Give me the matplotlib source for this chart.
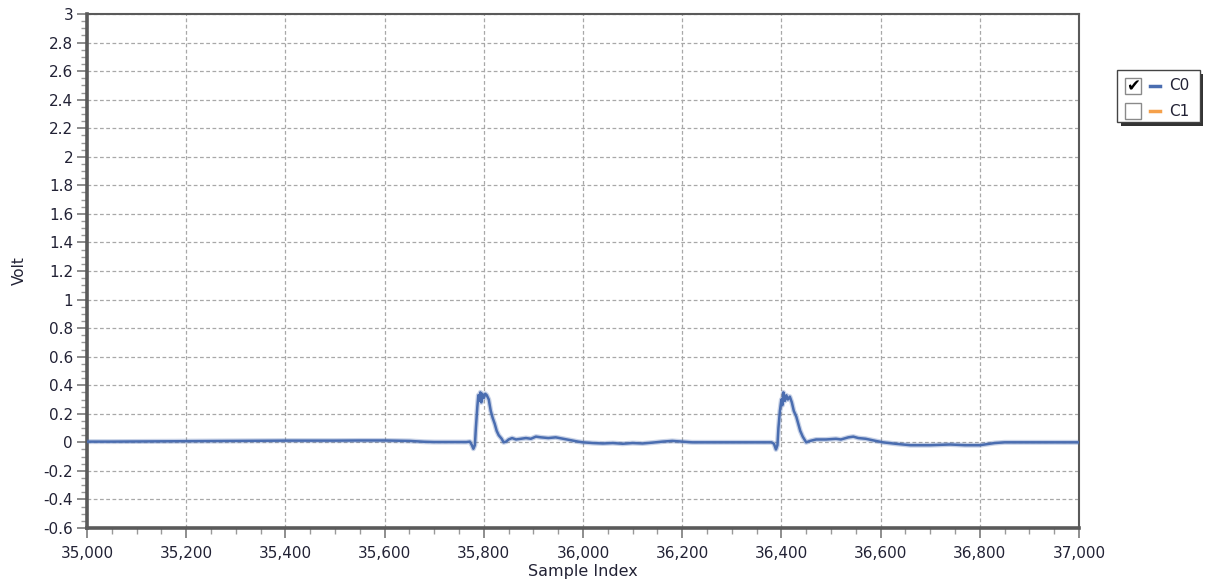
import matplotlib
matplotlib.use("Agg")
import matplotlib.pyplot as plt
from matplotlib.patches import Rectangle
from matplotlib.lines import Line2D
from matplotlib.ticker import MultipleLocator, FuncFormatter

# ---------------- data ----------------
samples = [35000, 35050, 35100, 35150, 35200, 35250, 35300, 35350, 35400, 35450,
           35500, 35550, 35600, 35650, 35680, 35700, 35740, 35765, 35772, 35776,
           35779, 35782, 35784, 35787, 35789, 35791, 35793, 35795, 35797, 35800,
           35803, 35806, 35810, 35814, 35818, 35822, 35826, 35830, 35836, 35840,
           35845, 35850, 35857, 35865, 35875, 35885, 35895, 35905, 35915, 35930,
           35945, 35960, 35975, 35990, 36000, 36020, 36040, 36060, 36080, 36100,
           36120, 36140, 36160, 36180, 36200, 36220, 36250, 36300, 36350, 36380,
           36385, 36389, 36392, 36394, 36397, 36400, 36402, 36404, 36407, 36410,
           36413, 36417, 36421, 36425, 36430, 36434, 36438, 36443, 36450, 36458,
           36470, 36490, 36510, 36520, 36535, 36545, 36555, 36570, 36590, 36605,
           36630, 36660, 36700, 36740, 36770, 36800, 36830, 36850, 36900, 36950,
           37000]
c0_volt = [0.005, 0.005, 0.006, 0.007, 0.008, 0.009, 0.010, 0.011, 0.012, 0.012,
           0.012, 0.013, 0.013, 0.010, 0.004, 0.002, 0.002, 0.002, 0.005, -0.02,
           -0.045, -0.02, 0.10, 0.25, 0.33, 0.29, 0.35, 0.28, 0.34, 0.31,
           0.34, 0.33, 0.30, 0.22, 0.17, 0.13, 0.08, 0.05, 0.025, 0.0,
           0.005, 0.02, 0.03, 0.02, 0.025, 0.03, 0.025, 0.04, 0.035, 0.03,
           0.035, 0.025, 0.015, 0.005, 0.0, -0.005, -0.008, -0.005, -0.01, -0.005,
           -0.008, -0.002, 0.005, 0.01, 0.005, 0.0, 0.0, 0.0, 0.0, 0.0,
           -0.01, -0.05, -0.02, 0.10, 0.22, 0.30, 0.26, 0.35, 0.29, 0.33,
           0.30, 0.32, 0.28, 0.22, 0.18, 0.13, 0.08, 0.04, 0.0, 0.01,
           0.02, 0.02, 0.025, 0.02, 0.035, 0.04, 0.03, 0.025, 0.01, 0.0,
           -0.01, -0.02, -0.02, -0.015, -0.02, -0.02, -0.005, 0.0, 0.0, 0.0,
           0.0]
series_names = ["C0", "C1"]
series_colors = ["#4a6db0", "#f5a04a"]
series_checked = [True, False]

# ---------------- figure ----------------
W, H = 1208, 582
fig = plt.figure(figsize=(W / 100, H / 100), dpi=100)
fig.patch.set_facecolor("white")

L, R, T, B = 87, 1079, 14, 528
ax = fig.add_axes([L / W, 1 - B / H, (R - L) / W, (B - T) / H])

ax.plot(samples, c0_volt, color=series_colors[0], lw=3.6, alpha=0.3,
        solid_joinstyle="round", zorder=3)
ax.plot(samples, c0_volt, color=series_colors[0], lw=1.8,
        solid_joinstyle="round", zorder=4)

ax.set_xlim(35000, 37000)
ax.set_ylim(-0.6, 3.0)
ax.xaxis.set_major_locator(MultipleLocator(200))
ax.xaxis.set_minor_locator(MultipleLocator(50))
ax.yaxis.set_major_locator(MultipleLocator(0.2))
ax.yaxis.set_minor_locator(MultipleLocator(0.05))
ax.xaxis.set_major_formatter(FuncFormatter(lambda v, p: f"{int(round(v)):,}"))
ax.yaxis.set_major_formatter(FuncFormatter(
    lambda v, p: (f"{v:.1f}".rstrip("0").rstrip(".") if abs(v) > 1e-9 else "0")))

txt_color = "#222235"
ax.tick_params(axis="both", which="major", direction="out", length=7, width=1.2,
               color="#7a7a7a", labelsize=11, labelcolor=txt_color)
ax.tick_params(axis="x", which="major", pad=6)
ax.tick_params(axis="y", which="major", pad=3)
ax.tick_params(axis="both", which="minor", direction="out", length=4, width=1.0,
               color="#9a9a9a")

ax.grid(True, which="major", color="#a8a8a8", linestyle=(0, (3, 2)), lw=0.9, zorder=0)

for s in ["left", "bottom"]:
    ax.spines[s].set_linewidth(2.6)
    ax.spines[s].set_color("#5a5a5a")
for s in ["top", "right"]:
    ax.spines[s].set_linewidth(1.5)
    ax.spines[s].set_color("#5a5a5a")

ax.set_xlabel("Sample Index", fontsize=11.5, color=txt_color, labelpad=2)
ax.set_ylabel("Volt", fontsize=11, color=txt_color, labelpad=12)

# ---------------- legend (custom, checkbox style) ----------------
def fx(px):
    return px / W

def fy(py):
    return 1 - py / H

# shadow
fig.add_artist(Rectangle((fx(1121), fy(126)), (1203 - 1121) / W, (126 - 74) / H,
                         transform=fig.transFigure, facecolor="#333333",
                         edgecolor="none", zorder=5))
fig.add_artist(Rectangle((fx(1117), fy(122)), (1200 - 1117) / W, (122 - 70) / H,
                         transform=fig.transFigure, facecolor="white",
                         edgecolor="#444444", lw=1.0, zorder=6))

rows_y = [86, 111]
for name, col, chk, yc in zip(series_names, series_colors, series_checked, rows_y):
    fig.add_artist(Rectangle((fx(1125), fy(yc + 8)), 16 / W, 16 / H,
                             transform=fig.transFigure, facecolor="white",
                             edgecolor="#8a8a8a", lw=1.0, zorder=7))
    if chk:
        fig.text(fx(1133), fy(yc), "\u2714", ha="center", va="center",
                 fontsize=12, color="black", zorder=8)
    fig.add_artist(Line2D([fx(1150), fx(1160)], [fy(yc), fy(yc)],
                          transform=fig.transFigure, color=col, lw=2.5, zorder=8))
    fig.text(fx(1169), fy(yc), name, ha="left", va="center", fontsize=11,
             color=txt_color, zorder=8)

fig.savefig("out.png", dpi=100)
